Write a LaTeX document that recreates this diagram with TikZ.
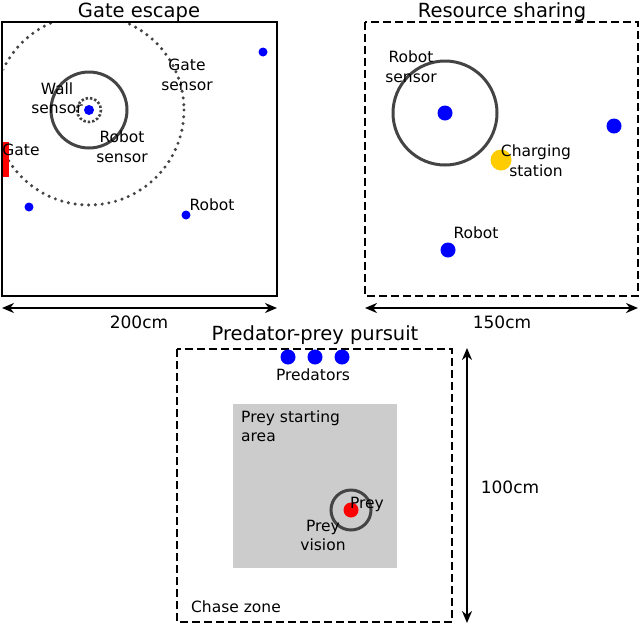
\documentclass[tikz,border=0pt]{standalone}
\usepackage{fontspec}
\setmainfont{DejaVu Sans}
\usetikzlibrary{arrows.meta}
\definecolor{ringgray}{HTML}{444444}
\definecolor{robotblue}{HTML}{0000FF}
\definecolor{chargeyellow}{HTML}{FFCC00}
\definecolor{areagray}{HTML}{CCCCCC}
\begin{document}
\begin{tikzpicture}[x=1pt,y=-1pt,
  title/.style={font=\fontsize{19.5}{22}\selectfont, anchor=base, inner sep=0pt},
  lbl/.style={font=\fontsize{15.5}{19.5}\selectfont, inner sep=0pt},
  dimlbl/.style={font=\fontsize{17}{19}\selectfont, anchor=base, inner sep=0pt},
  arena/.style={line width=2.9pt, draw=black},
  dasharena/.style={line width=2.9pt, draw=black, dash pattern=on 8pt off 4pt},
  ring/.style={line width=3pt, draw=ringgray},
  dotring/.style={line width=3.4pt, draw=ringgray, line cap=round, dash pattern=on 0pt off 6.8pt},
  smallring/.style={line width=2.6pt, draw=ringgray, dash pattern=on 2.4pt off 2pt},
  dimarrow/.style={line width=2.8pt, {Stealth[length=12pt,width=10pt]}-{Stealth[length=12pt,width=10pt]}},
  bot/.style={circle, fill=robotblue, inner sep=0pt, minimum size=#1},
  bot/.default=15pt
]
\useasboundingbox (0,0) rectangle (640,625);

% ---------------- Gate escape ----------------
\node[title] (t1) at (139,17) {Gate escape};
\begin{scope}
  \clip (3.5,23.5) rectangle (275.5,294.5);
  \draw[dotring] (89,110) circle (95);
\end{scope}
\fill[red] (2,142) rectangle (8.5,177);
\draw[arena] (2,22) rectangle (277,296);
\draw[ring] (89,110) circle (38);
\draw[smallring] (89,110) circle (12);
\node[bot=10pt] (g0) at (89,110) {};
\node[bot=9pt] (g1) at (263,52) {};
\node[bot=9pt] (g2) at (29,207) {};
\node[bot=9pt] (g3) at (186,215) {};
\node[lbl, align=center] (wall) at (57,98) {Wall\\sensor};
\node[lbl, align=center] (rsens) at (122,146.5) {Robot\\sensor};
\node[lbl, align=center] (gsens) at (187,75) {Gate\\sensor};
\node[lbl, anchor=base] (gate) at (21,155.5) {Gate};
\node[lbl, anchor=base] (grob) at (212,210.5) {Robot};
\coordinate (a1l) at (2,308);
\coordinate (a1r) at (277,308);
\draw[dimarrow] (a1l) -- (a1r);
\node[dimlbl] (d1) at (139,328) {200cm};

% ---------------- Resource sharing ----------------
\node[title] (t2) at (502,17) {Resource sharing};
\draw[dasharena] (365,22) rectangle (638,296);
\draw[ring] (445,113) circle (52);
\node[bot] (r0) at (445,113) {};
\node[bot] (r1) at (614,126) {};
\node[bot] (r2) at (448,250) {};
\node[circle, fill=chargeyellow, inner sep=0pt, minimum size=21pt] (charge) at (501,160) {};
\node[lbl, align=center] (rs2) at (411,66.5) {Robot\\sensor};
\node[lbl, align=center] (cs) at (536,160.5) {Charging\\station};
\node[lbl, anchor=base] (rrob) at (476,238.5) {Robot};
\coordinate (a2l) at (365,308);
\coordinate (a2r) at (638,308);
\draw[dimarrow] (a2l) -- (a2r);
\node[dimlbl] (d2) at (502,328) {150cm};

% ---------------- Predator-prey pursuit ----------------
\node[title] (t3) at (315,340.5) {Predator-prey pursuit};
\fill[areagray] (233,404) rectangle (397,568);
\draw[dasharena] (177,349) rectangle (452,622);
\node[bot] (p1) at (288,357) {};
\node[bot] (p2) at (315,357) {};
\node[bot] (p3) at (342,357) {};
\node[lbl, anchor=base] (pred) at (313,380.5) {Predators};
\node[lbl, align=left, anchor=north west] (start) at (241,410.5) {Prey starting\\area};
\draw[ring] (351,510) circle (20);
\node[circle, fill=red, inner sep=0pt, minimum size=15pt] (prey) at (351,510) {};
\node[lbl, anchor=base] (preylbl) at (367,508.5) {Prey};
\node[lbl, align=center] (vision) at (323,535.5) {Prey\\vision};
\node[lbl, anchor=base] (chase) at (236,612.5) {Chase zone};
\coordinate (a3t) at (467,348);
\coordinate (a3b) at (467,623);
\draw[dimarrow] (a3t) -- (a3b);
\node[dimlbl] (d3) at (510,493) {100cm};
\end{tikzpicture}
\end{document}
